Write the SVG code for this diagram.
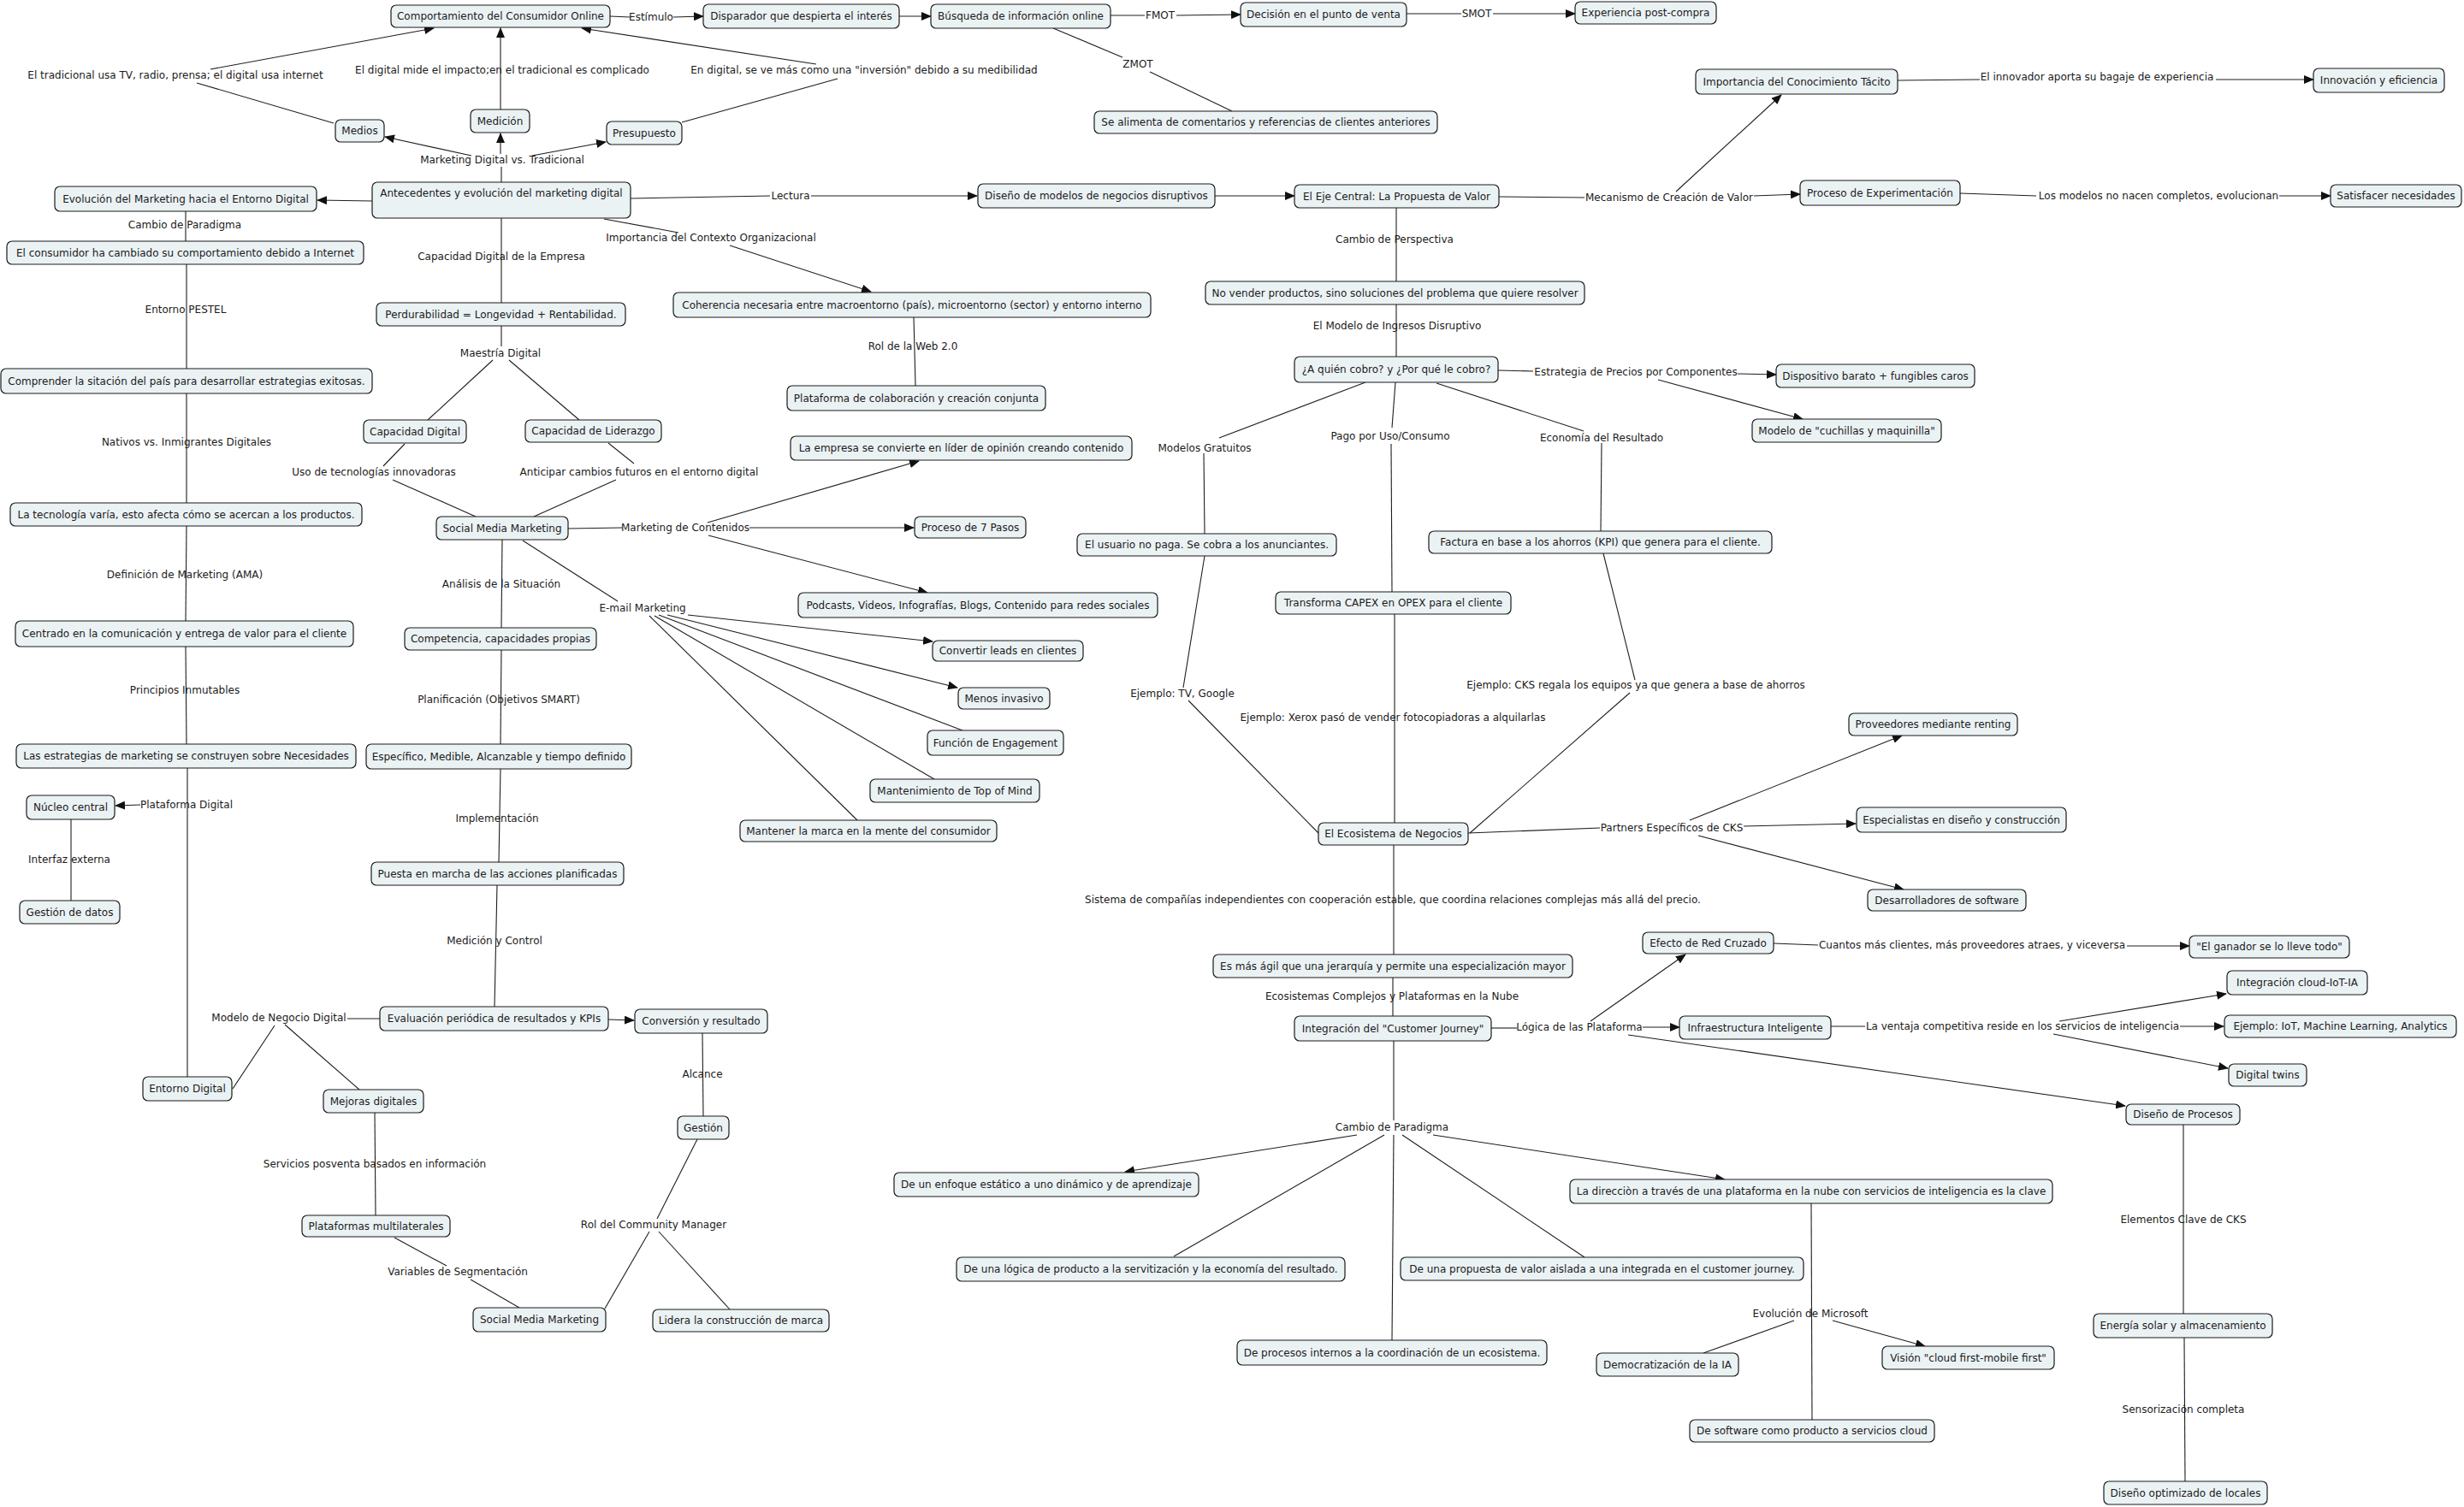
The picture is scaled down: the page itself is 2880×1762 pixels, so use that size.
<svg xmlns="http://www.w3.org/2000/svg" width="2880" height="1762" viewBox="0 0 2880 1762">
<style>
text{font-family:"DejaVu Sans",Verdana,sans-serif;font-size:12px;fill:#1b1b1b;text-anchor:middle}
.n rect{fill:#ebf2f4;stroke:#1b1b1b;stroke-width:1.2}
#links path{stroke:#1e1e1e;stroke-width:1.1;fill:none}
#links path.a{marker-end:url(#ah)}
</style>
<defs>
<marker id="ah" markerUnits="userSpaceOnUse" markerWidth="12" markerHeight="10" refX="11" refY="5" orient="auto">
<path d="M0,0 L12,5 L0,10 z" fill="#111"/>
</marker>
</defs>
<rect width="2880" height="1762" fill="#fff"/>
<g id="links">
<path d="M713,19 L736,20"/><path class="a" d="M787,20 L822,19"/>
<path class="a" d="M1051,19 L1088,19"/>
<path d="M1298,18 L1338,18"/><path class="a" d="M1375,18 L1450,17"/>
<path d="M1644,16 L1708,16"/><path class="a" d="M1745,16 L1841,16"/>
<path d="M1231,33 L1312,67"/><path d="M1344,84 L1440,130"/>
<path d="M390,144 L230,97"/><path class="a" d="M246,81 L507,33"/>
<path class="a" d="M585,128 L585,33"/>
<path d="M797,143 L979,92"/><path class="a" d="M954,75 L680,33"/>
<path d="M586,213 L586,195"/>
<path class="a" d="M551,182 L450,160"/>
<path class="a" d="M585,180 L585,156"/>
<path class="a" d="M622,182 L708,166"/>
<path class="a" d="M435,235 L371,234"/>
<path d="M217,247 L217,282"/>
<path d="M218,309 L218,431"/>
<path d="M218,460 L218,588"/>
<path d="M218,615 L217,726"/>
<path d="M217,756 L218,870"/>
<path d="M219,898 L219,1259"/>
<path class="a" d="M164,941 L135,942"/>
<path d="M83,958 L83,1053"/>
<path d="M586,255 L586,354"/>
<path d="M586,381 L586,405"/>
<path d="M576,421 L500,491"/>
<path d="M595,421 L677,491"/>
<path d="M473,519 L448,545"/><path d="M459,561 L556,604"/>
<path d="M711,518 L741,542"/><path d="M720,561 L624,604"/>
<path d="M737,232 L900,229"/><path class="a" d="M948,229 L1142,229"/>
<path d="M706,256 L793,272"/><path class="a" d="M853,287 L1018,341"/>
<path d="M1068,371 L1070,451"/>
<path d="M587,631 L586,734"/>
<path d="M586,760 L585,870"/>
<path d="M585,899 L583,1008"/>
<path d="M581,1035 L578,1177"/>
<path d="M444,1191 L406,1191"/>
<path d="M321,1199 L272,1273"/>
<path d="M333,1198 L420,1274"/>
<path class="a" d="M711,1192 L741,1193"/>
<path d="M821,1208 L822,1305"/>
<path d="M815,1332 L768,1425"/>
<path d="M759,1440 L707,1530"/>
<path d="M770,1440 L853,1531"/>
<path d="M438,1301 L439,1421"/>
<path d="M461,1447 L522,1480"/><path d="M550,1496 L607,1529"/>
<path d="M664,618 L727,617"/><path class="a" d="M876,617 L1068,617"/>
<path class="a" d="M827,611 L1074,539"/>
<path class="a" d="M828,626 L1084,693"/>
<path d="M611,632 L722,703"/>
<path class="a" d="M804,719 L1090,750"/>
<path class="a" d="M780,719 L1119,804"/>
<path d="M770,719 L1125,854"/>
<path d="M765,720 L1092,911"/>
<path d="M759,720 L1002,959"/>
<path class="a" d="M1420,229 L1513,229"/>
<path d="M1752,230 L1852,231"/><path class="a" d="M2050,229 L2104,227"/>
<path class="a" d="M1959,224 L2082,111"/>
<path d="M2218,94 L2314,93"/><path class="a" d="M2590,93 L2704,93"/>
<path d="M2291,226 L2380,229"/><path class="a" d="M2664,229 L2724,229"/>
<path d="M1632,243 L1632,329"/>
<path d="M1632,356 L1632,417"/>
<path d="M1751,433 L1792,434"/><path class="a" d="M2031,437 L2076,438"/>
<path class="a" d="M1938,444 L2107,490"/>
<path d="M1596,447 L1425,512"/><path d="M1407,530 L1408,624"/>
<path d="M1631,447 L1627,500"/><path d="M1626,519 L1627,692"/>
<path d="M1679,448 L1851,504"/><path d="M1872,518 L1871,621"/>
<path d="M1408,650 L1383,804"/><path d="M1389,819 L1541,974"/>
<path d="M1630,718 L1630,962"/>
<path d="M1874,647 L1911,795"/><path d="M1905,810 L1718,974"/>
<path d="M1716,974 L1870,968"/>
<path class="a" d="M1975,959 L2223,860"/>
<path class="a" d="M2038,966 L2169,963"/>
<path class="a" d="M1985,977 L2225,1040"/>
<path d="M1629,988 L1629,1116"/>
<path d="M1628,1143 L1628,1188"/>
<path d="M1743,1202 L1773,1202"/><path class="a" d="M1920,1201 L1963,1201"/>
<path class="a" d="M1859,1194 L1970,1116"/>
<path class="a" d="M1903,1210 L2484,1293"/>
<path d="M2073,1103 L2125,1105"/><path class="a" d="M2486,1106 L2559,1106"/>
<path d="M2140,1200 L2180,1200"/><path class="a" d="M2548,1200 L2599,1200"/>
<path class="a" d="M2407,1194 L2602,1162"/>
<path class="a" d="M2400,1209 L2604,1249"/>
<path d="M1629,1217 L1629,1310"/>
<path class="a" d="M1586,1327 L1315,1370"/>
<path d="M1618,1327 L1372,1469"/>
<path d="M1629,1327 L1627,1567"/>
<path d="M1639,1327 L1852,1470"/>
<path class="a" d="M1675,1327 L2016,1379"/>
<path d="M2117,1407 L2118,1660"/>
<path d="M2097,1544 L1991,1582"/>
<path class="a" d="M2142,1544 L2250,1574"/>
<path d="M2552,1315 L2552,1536"/>
<path d="M2553,1564 L2554,1732"/>
</g>
<g id="labels">
<text x="761" y="24">Estímulo</text>
<text x="1356" y="22">FMOT</text>
<text x="1726" y="20">SMOT</text>
<text x="1330" y="79">ZMOT</text>
<text x="205" y="92">El tradicional usa TV, radio, prensa; el digital usa internet</text>
<text x="587" y="86">El digital mide el impacto;en el tradicional es complicado</text>
<text x="1010" y="86">En digital, se ve más como una "inversión" debido a su medibilidad</text>
<text x="587" y="191">Marketing Digital vs. Tradicional</text>
<text x="924" y="233">Lectura</text>
<text x="831" y="282">Importancia del Contexto Organizacional</text>
<text x="216" y="267">Cambio de Paradigma</text>
<text x="586" y="304">Capacidad Digital de la Empresa</text>
<text x="217" y="366">Entorno PESTEL</text>
<text x="585" y="417">Maestría Digital</text>
<text x="1067" y="409">Rol de la Web 2.0</text>
<text x="218" y="521">Nativos vs. Inmigrantes Digitales</text>
<text x="437" y="556">Uso de tecnologías innovadoras</text>
<text x="747" y="556">Anticipar cambios futuros en el entorno digital</text>
<text x="801" y="621">Marketing de Contenidos</text>
<text x="751" y="715">E-mail Marketing</text>
<text x="216" y="676">Definición de Marketing (AMA)</text>
<text x="586" y="687">Análisis de la Situación</text>
<text x="216" y="811">Principios Inmutables</text>
<text x="583" y="822">Planificación (Objetivos SMART)</text>
<text x="218" y="945">Plataforma Digital</text>
<text x="581" y="961">Implementación</text>
<text x="81" y="1009">Interfaz externa</text>
<text x="578" y="1104">Medición y Control</text>
<text x="326" y="1194">Modelo de Negocio Digital</text>
<text x="821" y="1260">Alcance</text>
<text x="438" y="1365">Servicios posventa basados en información</text>
<text x="764" y="1436">Rol del Community Manager</text>
<text x="535" y="1491">Variables de Segmentación</text>
<text x="1951" y="235">Mecanismo de Creación de Valor</text>
<text x="2451" y="94">El innovador aporta su bagaje de experiencia</text>
<text x="2523" y="233">Los modelos no nacen completos, evolucionan</text>
<text x="1630" y="284">Cambio de Perspectiva</text>
<text x="1633" y="385">El Modelo de Ingresos Disruptivo</text>
<text x="1912" y="439">Estrategia de Precios por Componentes</text>
<text x="1408" y="528">Modelos Gratuitos</text>
<text x="1625" y="514">Pago por Uso/Consumo</text>
<text x="1872" y="516">Economía del Resultado</text>
<text x="1382" y="815">Ejemplo: TV, Google</text>
<text x="1628" y="843">Ejemplo: Xerox pasó de vender fotocopiadoras a alquilarlas</text>
<text x="1912" y="805">Ejemplo: CKS regala los equipos ya que genera a base de ahorros</text>
<text x="1954" y="972">Partners Específicos de CKS</text>
<text x="1628" y="1056">Sistema de compañías independientes con cooperación estable, que coordina relaciones complejas más allá del precio.</text>
<text x="1627" y="1169">Ecosistemas Complejos y Plataformas en la Nube</text>
<text x="2305" y="1109">Cuantos más clientes, más proveedores atraes, y viceversa</text>
<text x="1846" y="1205">Lógica de las Plataforma</text>
<text x="2364" y="1204">La ventaja competitiva reside en los servicios de inteligencia</text>
<text x="1627" y="1322">Cambio de Paradigma</text>
<text x="2116" y="1540">Evolución de Microsoft</text>
<text x="2552" y="1430">Elementos Clave de CKS</text>
<text x="2552" y="1652">Sensorización completa</text>
</g>
<g id="n1" class="n"><rect x="457" y="6" width="256" height="26" rx="6"/><text x="585" y="23">Comportamiento del Consumidor Online</text></g>
<g id="n2" class="n"><rect x="822" y="5" width="229" height="28" rx="6"/><text x="936.5" y="23">Disparador que despierta el interés</text></g>
<g id="n3" class="n"><rect x="1088" y="5" width="210" height="28" rx="6"/><text x="1193" y="23">Búsqueda de información online</text></g>
<g id="n4" class="n"><rect x="1450" y="3" width="194" height="28" rx="6"/><text x="1547" y="21">Decisión en el punto de venta</text></g>
<g id="n5" class="n"><rect x="1841" y="2" width="165" height="26" rx="6"/><text x="1923.5" y="19">Experiencia post-compra</text></g>
<g id="n6" class="n"><rect x="1279" y="130" width="401" height="26" rx="6"/><text x="1479.5" y="147">Se alimenta de comentarios y referencias de clientes anteriores</text></g>
<g id="n7" class="n"><rect x="392" y="140" width="57" height="26" rx="6"/><text x="420.5" y="157">Medios</text></g>
<g id="n8" class="n"><rect x="550" y="128" width="69" height="27" rx="6"/><text x="584.5" y="146">Medición</text></g>
<g id="n9" class="n"><rect x="709" y="142" width="88" height="27" rx="6"/><text x="753" y="160">Presupuesto</text></g>
<g id="n10" class="n"><rect x="435" y="213" width="302" height="42" rx="6"/><text x="586" y="230">Antecedentes y evolución del marketing digital</text></g>
<g id="n11" class="n"><rect x="64" y="218" width="306" height="29" rx="6"/><text x="217" y="237">Evolución del Marketing hacia el Entorno Digital</text></g>
<g id="n12" class="n"><rect x="8" y="282" width="417" height="27" rx="6"/><text x="216.5" y="300">El consumidor ha cambiado su comportamiento debido a Internet</text></g>
<g id="n13" class="n"><rect x="1" y="431" width="434" height="29" rx="6"/><text x="218" y="450">Comprender la sitación del país para desarrollar estrategias exitosas.</text></g>
<g id="n14" class="n"><rect x="12" y="588" width="411" height="27" rx="6"/><text x="217.5" y="606">La tecnología varía, esto afecta cómo se acercan a los productos.</text></g>
<g id="n15" class="n"><rect x="18" y="726" width="395" height="30" rx="6"/><text x="215.5" y="745">Centrado en la comunicación y entrega de valor para el cliente</text></g>
<g id="n16" class="n"><rect x="19" y="870" width="397" height="28" rx="6"/><text x="217.5" y="888">Las estrategias de marketing se construyen sobre Necesidades</text></g>
<g id="n17" class="n"><rect x="31" y="930" width="103" height="28" rx="6"/><text x="82.5" y="948">Núcleo central</text></g>
<g id="n18" class="n"><rect x="23" y="1053" width="117" height="27" rx="6"/><text x="81.5" y="1071">Gestión de datos</text></g>
<g id="n19" class="n"><rect x="167" y="1259" width="104" height="28" rx="6"/><text x="219" y="1277">Entorno Digital</text></g>
<g id="n20" class="n"><rect x="378" y="1274" width="117" height="27" rx="6"/><text x="436.5" y="1292">Mejoras digitales</text></g>
<g id="n21" class="n"><rect x="353" y="1421" width="173" height="25" rx="6"/><text x="439.5" y="1438">Plataformas multilaterales</text></g>
<g id="n22" class="n"><rect x="553" y="1529" width="155" height="28" rx="6"/><text x="630.5" y="1547">Social Media Marketing</text></g>
<g id="n23" class="n"><rect x="763" y="1531" width="206" height="26" rx="6"/><text x="866" y="1548">Lidera la construcción de marca</text></g>
<g id="n24" class="n"><rect x="792" y="1305" width="60" height="27" rx="6"/><text x="822" y="1323">Gestión</text></g>
<g id="n25" class="n"><rect x="742" y="1180" width="155" height="28" rx="6"/><text x="819.5" y="1198">Conversión y resultado</text></g>
<g id="n26" class="n"><rect x="444" y="1177" width="267" height="28" rx="6"/><text x="577.5" y="1195">Evaluación periódica de resultados y KPIs</text></g>
<g id="n27" class="n"><rect x="434" y="1008" width="295" height="27" rx="6"/><text x="581.5" y="1026">Puesta en marcha de las acciones planificadas</text></g>
<g id="n28" class="n"><rect x="428" y="870" width="310" height="29" rx="6"/><text x="583" y="889">Específico, Medible, Alcanzable y tiempo definido</text></g>
<g id="n29" class="n"><rect x="473" y="734" width="224" height="26" rx="6"/><text x="585" y="751">Competencia, capacidades propias</text></g>
<g id="n30" class="n"><rect x="510" y="604" width="154" height="27" rx="6"/><text x="587" y="622">Social Media Marketing</text></g>
<g id="n31" class="n"><rect x="425" y="491" width="120" height="27" rx="6"/><text x="485" y="509">Capacidad Digital</text></g>
<g id="n32" class="n"><rect x="614" y="491" width="159" height="26" rx="6"/><text x="693.5" y="508">Capacidad de Liderazgo</text></g>
<g id="n33" class="n"><rect x="440" y="354" width="291" height="27" rx="6"/><text x="585.5" y="372"> Perdurabilidad = Longevidad + Rentabilidad.</text></g>
<g id="n34" class="n"><rect x="787" y="342" width="558" height="29" rx="6"/><text x="1066" y="361">Coherencia necesaria entre macroentorno (país), microentorno (sector) y entorno interno</text></g>
<g id="n35" class="n"><rect x="920" y="451" width="302" height="29" rx="6"/><text x="1071" y="470">Plataforma de colaboración y creación conjunta</text></g>
<g id="n36" class="n"><rect x="924" y="510" width="399" height="28" rx="6"/><text x="1123.5" y="528">La empresa se convierte en líder de opinión creando contenido</text></g>
<g id="n37" class="n"><rect x="1069" y="604" width="130" height="25" rx="6"/><text x="1134" y="621">Proceso de 7 Pasos</text></g>
<g id="n38" class="n"><rect x="933" y="693" width="420" height="29" rx="6"/><text x="1143" y="712">Podcasts, Videos, Infografías, Blogs, Contenido para redes sociales</text></g>
<g id="n39" class="n"><rect x="1090" y="749" width="176" height="24" rx="6"/><text x="1178" y="765">Convertir leads en clientes</text></g>
<g id="n40" class="n"><rect x="1120" y="804" width="107" height="25" rx="6"/><text x="1173.5" y="821">Menos invasivo</text></g>
<g id="n41" class="n"><rect x="1084" y="854" width="159" height="29" rx="6"/><text x="1163.5" y="873">Función de Engagement</text></g>
<g id="n42" class="n"><rect x="1017" y="911" width="198" height="27" rx="6"/><text x="1116" y="929">Mantenimiento de Top of Mind</text></g>
<g id="n43" class="n"><rect x="865" y="959" width="300" height="25" rx="6"/><text x="1015" y="976">Mantener la marca en la mente del consumidor</text></g>
<g id="n44" class="n"><rect x="1143" y="215" width="277" height="28" rx="6"/><text x="1281.5" y="233">Diseño de modelos de negocios disruptivos</text></g>
<g id="n45" class="n"><rect x="1513" y="216" width="239" height="27" rx="6"/><text x="1632.5" y="234">El Eje Central: La Propuesta de Valor</text></g>
<g id="n46" class="n"><rect x="1982" y="81" width="236" height="29" rx="6"/><text x="2100" y="100">Importancia del Conocimiento Tácito</text></g>
<g id="n47" class="n"><rect x="2704" y="80" width="153" height="28" rx="6"/><text x="2780.5" y="98">Innovación y eficiencia</text></g>
<g id="n48" class="n"><rect x="2104" y="211" width="187" height="29" rx="6"/><text x="2197.5" y="230">Proceso de Experimentación</text></g>
<g id="n49" class="n"><rect x="2724" y="216" width="153" height="26" rx="6"/><text x="2800.5" y="233">Satisfacer necesidades</text></g>
<g id="n50" class="n"><rect x="1409" y="329" width="443" height="27" rx="6"/><text x="1630.5" y="347">No vender productos, sino soluciones del problema que quiere resolver</text></g>
<g id="n51" class="n"><rect x="1513" y="417" width="238" height="30" rx="6"/><text x="1632" y="436">¿A quién cobro? y ¿Por qué le cobro?</text></g>
<g id="n52" class="n"><rect x="2076" y="426" width="232" height="27" rx="6"/><text x="2192" y="444">Dispositivo barato + fungibles caros</text></g>
<g id="n53" class="n"><rect x="2048" y="490" width="221" height="27" rx="6"/><text x="2158.5" y="508">Modelo de "cuchillas y maquinilla"</text></g>
<g id="n54" class="n"><rect x="1259" y="624" width="303" height="26" rx="6"/><text x="1410.5" y="641">El usuario no paga. Se cobra a los anunciantes.</text></g>
<g id="n55" class="n"><rect x="1491" y="692" width="275" height="26" rx="6"/><text x="1628.5" y="709">Transforma CAPEX en OPEX para el cliente</text></g>
<g id="n56" class="n"><rect x="1670" y="621" width="401" height="26" rx="6"/><text x="1870.5" y="638">Factura en base a los ahorros (KPI) que genera para el cliente.</text></g>
<g id="n57" class="n"><rect x="1541" y="962" width="175" height="26" rx="6"/><text x="1628.5" y="979">El Ecosistema de Negocios</text></g>
<g id="n58" class="n"><rect x="2161" y="834" width="197" height="26" rx="6"/><text x="2259.5" y="851">Proveedores mediante renting</text></g>
<g id="n59" class="n"><rect x="2170" y="944" width="245" height="29" rx="6"/><text x="2292.5" y="963">Especialistas en diseño y construcción</text></g>
<g id="n60" class="n"><rect x="2183" y="1040" width="185" height="25" rx="6"/><text x="2275.5" y="1057">Desarrolladores de software</text></g>
<g id="n61" class="n"><rect x="1418" y="1116" width="420" height="27" rx="6"/><text x="1628" y="1134">Es más ágil que una jerarquía y permite una especialización mayor</text></g>
<g id="n62" class="n"><rect x="1920" y="1090" width="153" height="25" rx="6"/><text x="1996.5" y="1107">Efecto de Red Cruzado</text></g>
<g id="n63" class="n"><rect x="2559" y="1094" width="187" height="26" rx="6"/><text x="2652.5" y="1111">"El ganador se lo lleve todo"</text></g>
<g id="n64" class="n"><rect x="1513" y="1188" width="230" height="29" rx="6"/><text x="1628" y="1207">Integración del "Customer Journey"</text></g>
<g id="n65" class="n"><rect x="1963" y="1188" width="177" height="27" rx="6"/><text x="2051.5" y="1206">Infraestructura Inteligente</text></g>
<g id="n66" class="n"><rect x="2603" y="1135" width="164" height="28" rx="6"/><text x="2685" y="1153">Integración cloud-IoT-IA</text></g>
<g id="n67" class="n"><rect x="2600" y="1187" width="271" height="26" rx="6"/><text x="2735.5" y="1204">Ejemplo: IoT, Machine Learning, Analytics</text></g>
<g id="n68" class="n"><rect x="2605" y="1244" width="91" height="26" rx="6"/><text x="2650.5" y="1261">Digital twins</text></g>
<g id="n69" class="n"><rect x="2485" y="1291" width="133" height="24" rx="6"/><text x="2551.5" y="1307">Diseño de Procesos</text></g>
<g id="n70" class="n"><rect x="1045" y="1371" width="356" height="28" rx="6"/><text x="1223" y="1389">De un enfoque estático a uno dinámico y de aprendizaje</text></g>
<g id="n71" class="n"><rect x="1835" y="1379" width="564" height="28" rx="6"/><text x="2117" y="1397">La direcciòn a través de una plataforma en la nube con servicios de inteligencia es la clave</text></g>
<g id="n72" class="n"><rect x="1118" y="1470" width="454" height="28" rx="6"/><text x="1345" y="1488">De una lógica de producto a la servitización y la economía del resultado.</text></g>
<g id="n73" class="n"><rect x="1637" y="1470" width="471" height="27" rx="6"/><text x="1872.5" y="1488">De una propuesta de valor aislada a una integrada en el customer journey.</text></g>
<g id="n74" class="n"><rect x="1446" y="1567" width="362" height="29" rx="6"/><text x="1627" y="1586">De procesos internos a la coordinación de un ecosistema.</text></g>
<g id="n75" class="n"><rect x="1866" y="1582" width="166" height="27" rx="6"/><text x="1949" y="1600">Democratización de la IA</text></g>
<g id="n76" class="n"><rect x="2200" y="1574" width="201" height="27" rx="6"/><text x="2300.5" y="1592">Visión "cloud first-mobile first"</text></g>
<g id="n77" class="n"><rect x="1975" y="1660" width="286" height="26" rx="6"/><text x="2118" y="1677">De software como producto a servicios cloud</text></g>
<g id="n78" class="n"><rect x="2447" y="1536" width="209" height="28" rx="6"/><text x="2551.5" y="1554">Energía solar y almacenamiento</text></g>
<g id="n79" class="n"><rect x="2459" y="1732" width="191" height="27" rx="6"/><text x="2554.5" y="1750">Diseño optimizado de locales</text></g>
</svg>
